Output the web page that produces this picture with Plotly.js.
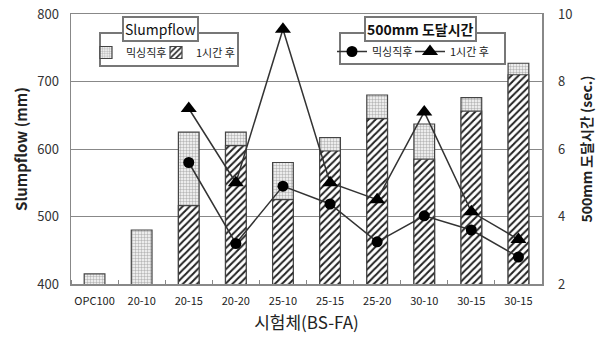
<!DOCTYPE html>
<html><head><meta charset="utf-8">
<script src="https://cdn.plot.ly/plotly-3.0.1.min.js"></script>
<style>html,body{margin:0;padding:0;background:#fff}#c{width:611px;height:340px}</style>
</head><body><div id="c"></div>
<script>
const categories = ['OPC100','20-10','20-15','20-20','25-10','25-15','25-20','30-10','30-15','30-15'];
const slumpMix  = [415, 480, 625, 625, 580, 617, 680, 637, 676, 727];
const slump1h   = [null, null, 516, 605, 525, 597, 645, 585, 656, 710];
const timeMix   = [null, null, 5.6, 3.2, 4.9, 4.37, 3.25, 4.02, 3.6, 2.8];
const time1h    = [null, null, 7.2, 5.0, 9.55, 5.0, 4.5, 7.1, 4.14, 3.32];
const seriesNames = ['믹싱직후', '1시간 후'];

const xs = categories.map((_, i) => i);
const F = '"Noto Sans CJK KR", "Noto Sans", sans-serif';
// paper coordinate helpers (plot area 71..542 x 14..284)
const px = v => (v - 71) / 471;
const py = v => (284 - v) / 270;

const traces = [
  {type:'bar', x: xs, y: slumpMix, name: seriesNames[0], width: 0.44, legend:'legend',
   marker:{color:'#e6e6e6', line:{color:'#444', width:1.2},
     pattern:{shape:'+', fgcolor:'#9a9a9a', bgcolor:'#ececec', size:3, solidity:0.25}}},
  {type:'bar', x: xs, y: slump1h, name: seriesNames[1], width: 0.44, legend:'legend2',
   marker:{color:'#fff', line:{color:'#444', width:1.2},
     pattern:{shape:'/', fgcolor:'#222', bgcolor:'#fff', size:5, solidity:0.4}}},
  {type:'scatter', mode:'lines+markers', x: xs, y: timeMix, name: seriesNames[0], yaxis:'y2', legend:'legend3',
   line:{color:'#333', width:1.5}, marker:{symbol:'circle', size:11, color:'#000'}},
  {type:'scatter', mode:'lines+markers', x: xs, y: time1h, name: seriesNames[1], yaxis:'y2', legend:'legend4',
   line:{color:'#333', width:1.5}, marker:{symbol:'triangle-up', size:14, color:'#000'}}
];

const legBase = {xanchor:'left', yanchor:'top', bgcolor:'rgba(0,0,0,0)', borderwidth:0,
  font:{size:11, color:'#222'}, itemwidth:30, orientation:'h'};

const layout = {
  width: 611, height: 340,
  margin: {l:71, r:69, t:14, b:56},
  paper_bgcolor:'#fff', plot_bgcolor:'#fff',
  font: {family: F, color:'#222', size:12},
  barmode: 'overlay',
  showlegend: true,
  xaxis: {
    range:[-0.5, 9.5], tickmode:'array', tickvals: xs, ticktext: categories,
    ticks:'', showline:true, linecolor:'#888', linewidth:1.5, mirror:true,
    showgrid:false, zeroline:false, tickfont:{size:11, color:'#222'}, ticklabelstandoff:6,
    minor:{tick0:0.5, dtick:1, ticks:'inside', ticklen:4, tickcolor:'#888', showgrid:false},
    title:{text:'시험체(BS-FA)', font:{size:17, color:'#222'}, standoff:10}
  },
  yaxis: {
    range:[400, 800], dtick:100, showline:true, linecolor:'#888', linewidth:1.5,
    gridcolor:'#888', gridwidth:1, zeroline:false, ticks:'', tickfont:{size:13, color:'#333'},
    ticklabelstandoff:8,
    title:{text:'<b>Slumpflow (mm)</b>', font:{size:15, color:'#222'}, standoff:6}
  },
  yaxis2: {
    overlaying:'y', side:'right', range:[2, 10], dtick:2, showline:true, linecolor:'#888', linewidth:1.5,
    showgrid:false, zeroline:false, ticks:'', tickfont:{size:13, color:'#333'}, ticklabelstandoff:12,
    title:{text:'<b>500mm 도달시간 (sec.)</b>', font:{size:14, color:'#222'}, standoff:10}
  },
  legend:  Object.assign({}, legBase, {x: px(86),  y: py(38)}),
  legend2: Object.assign({}, legBase, {x: px(156), y: py(38)}),
  legend3: Object.assign({}, legBase, {x: px(332), y: py(37)}),
  legend4: Object.assign({}, legBase, {x: px(410), y: py(37)}),
  shapes: [
    {type:'rect', xref:'paper', yref:'paper', x0:px(100), x1:px(238), y0:py(66), y1:py(33),
     line:{color:'#777', width:2}, fillcolor:'#fff', layer:'above'},
    {type:'rect', xref:'paper', yref:'paper', x0:px(340), x1:px(505), y0:py(64), y1:py(33),
     line:{color:'#777', width:2}, fillcolor:'#fff', layer:'above'}
  ],
  annotations: [
    {xref:'paper', yref:'paper', x:px(160), y:py(29), xanchor:'center', yanchor:'middle', showarrow:false,
     text:'Slumpflow', font:{size:14, color:'#111'}, bgcolor:'#fff', bordercolor:'#777', borderwidth:2, borderpad:1},
    {xref:'paper', yref:'paper', x:px(420), y:py(29), xanchor:'center', yanchor:'middle', showarrow:false,
     text:'<b>500mm 도달시간</b>', font:{size:14, color:'#111'}, bgcolor:'#fff', bordercolor:'#777', borderwidth:2, borderpad:1}
  ]
};

Plotly.newPlot('c', traces, layout, {displayModeBar:false, staticPlot:true});
</script>
</body></html>
